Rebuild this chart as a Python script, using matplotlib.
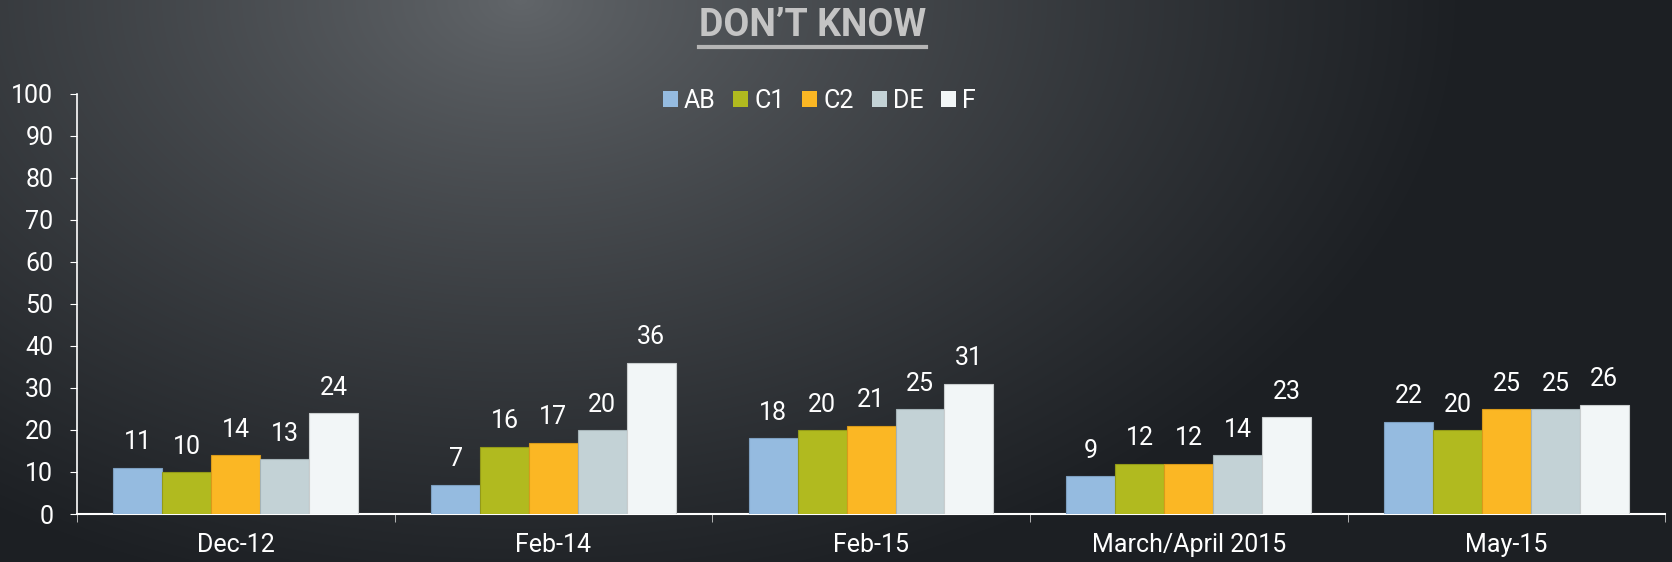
import numpy as np
import matplotlib
matplotlib.use("Agg")
import matplotlib.pyplot as plt
from matplotlib import font_manager

categories = ["Dec-12", "Feb-14", "Feb-15", "March/April 2015", "May-15"]
series_names = ["AB", "C1", "C2", "DE", "F"]
AB = [11, 7, 18, 9, 22]
C1 = [10, 16, 20, 12, 20]
C2 = [14, 17, 21, 12, 25]
DE = [13, 20, 25, 14, 25]
F = [24, 36, 31, 23, 26]
series_values = [AB, C1, C2, DE, F]
colors = ["#95bbe0", "#b1ba1f", "#fbb724", "#c3d2d6", "#f2f6f7"]
edges = ["#7d9fc0", "#939a18", "#d99a1a", "#a5b3b7", "#c9cdce"]
title = "DON\u2019T KNOW"

avail = {f.name for f in font_manager.fontManager.ttflist}
fam = [f for f in ["Liberation Sans Narrow", "DejaVu Sans Condensed", "Roboto",
                   "Open Sans", "DejaVu Sans"] if f in avail]
plt.rcParams["font.family"] = fam
FS = 18

W, H = 1672, 562
fig = plt.figure(figsize=(W / 100, H / 100), dpi=100)

# background gradient
bg = fig.add_axes([0, 0, 1, 1])
yy, xx = np.mgrid[0:H, 0:W]
d = np.sqrt(((xx - 520) / 950.0) ** 2 + ((yy - 0) / 620.0) ** 2)
t = np.clip(d, 0, 1) ** 0.85
c0 = np.array([0x62, 0x66, 0x6a]) / 255.0
c1 = np.array([0x1c, 0x1f, 0x23]) / 255.0
img = c0[None, None, :] * (1 - t[..., None]) + c1[None, None, :] * t[..., None]
bg.imshow(img, aspect="auto", extent=[0, W, H, 0])
bg.set_xlim(0, W)
bg.set_ylim(H, 0)
bg.axis("off")

ax = fig.add_axes([0.046, 0.0854, 0.95, 0.7476])
ax.patch.set_alpha(0)
n = len(series_names)
x = np.arange(len(categories))
bw = 0.154
for i, (name, vals) in enumerate(zip(series_names, series_values)):
    pos = x + (i - (n - 1) / 2) * bw
    ax.bar(pos, vals, width=bw, color=colors[i], edgecolor=edges[i],
           linewidth=0.8, label=name, zorder=3)
    for xp, v in zip(pos, vals):
        ax.text(xp, v + 3.2, str(v), ha="center", va="bottom", color="white",
                fontsize=FS)

ax.set_xlim(-0.5, len(categories) - 0.5)
ax.set_ylim(0, 100)
ax.set_yticks(np.arange(0, 101, 10))
ax.set_xticks(x)
ax.set_xticklabels(categories)
ax.set_xticks(np.arange(-0.5, len(categories), 1.0), minor=True)
ax.tick_params(axis="x", which="major", length=0, colors="white", labelsize=FS, pad=14)
ax.tick_params(axis="x", which="minor", length=6, color="#cccccc", direction="out")
ax.tick_params(axis="y", length=5, color="white", labelcolor="white", labelsize=FS, pad=12)
for s in ["top", "right"]:
    ax.spines[s].set_visible(False)
ax.spines["left"].set_color("white")
ax.spines["bottom"].set_color("white")
ax.spines["left"].set_linewidth(1.2)
ax.spines["bottom"].set_linewidth(1.5)

leg = fig.legend(loc="center", bbox_to_anchor=(0.49, 0.82), ncol=5, frameon=False,
                 fontsize=FS, handlelength=0.6, handleheight=0.6, handletextpad=0.25,
                 columnspacing=0.7, labelcolor="white")
for h in leg.legend_handles:
    h.set_edgecolor("none")

tt = fig.text(0.486, 0.955, title, ha="center", va="center", fontsize=27,
              fontweight="bold", color="#c4c4c4")
fig.canvas.draw()
bb = tt.get_window_extent()
inv = fig.transFigure.inverted()
(x0, y0), (x1, y1) = inv.transform([[bb.x0, bb.y0], [bb.x1, bb.y1]])
fig.add_artist(plt.Line2D([x0, x1], [0.916, 0.916], color="#b5b5b5", linewidth=3,
                          transform=fig.transFigure))

fig.savefig("out.png", dpi=100)
